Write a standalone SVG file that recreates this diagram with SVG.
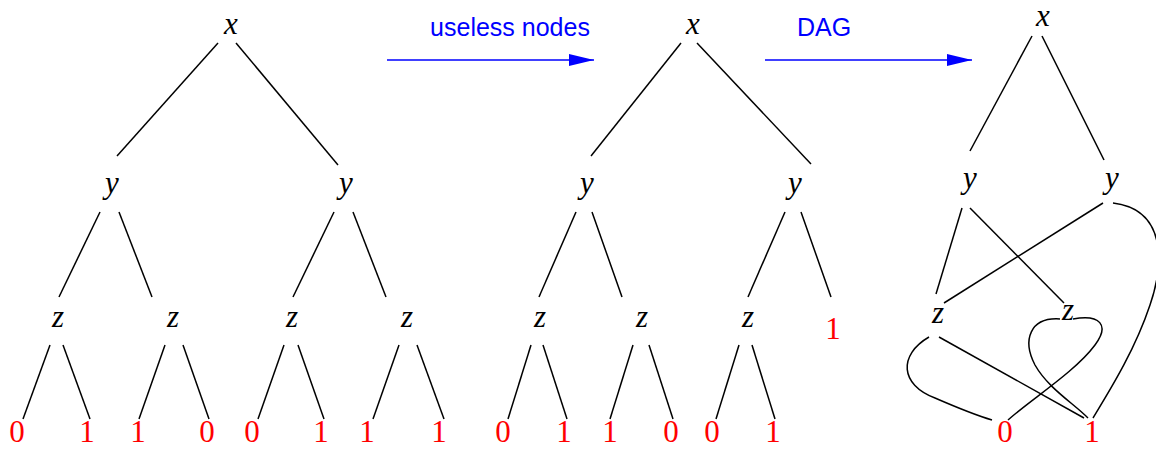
<svg xmlns="http://www.w3.org/2000/svg" width="1156" height="449" viewBox="0 0 1156 449">
<style>
.v{font-family:"Liberation Serif",serif;font-style:italic;font-size:31px;fill:#000;text-anchor:middle}
.d{font-family:"Liberation Serif",serif;font-size:31px;fill:#f00;text-anchor:middle}
.e line,.e path{stroke:#000;stroke-width:1.5;fill:none}
.a{stroke:#00f;stroke-width:1.5;fill:none}
.lbl{font-family:"Liberation Sans",sans-serif;font-size:25px;fill:#00f;text-anchor:middle}
</style>
<defs>
<marker id="ah" markerWidth="25" markerHeight="12" refX="25" refY="6" orient="auto" markerUnits="userSpaceOnUse">
<path d="M0,0 L25,6 L0,12 z" fill="#00f"/>
</marker>
</defs>
<g id="connectors" class="e">
<!-- tree 1 -->
<line x1="218" y1="43" x2="117" y2="156"/>
<line x1="236" y1="43" x2="338" y2="165"/>
<line x1="100" y1="212" x2="59" y2="297"/>
<line x1="119" y1="212" x2="152" y2="297"/>
<line x1="334" y1="212" x2="293" y2="297"/>
<line x1="353" y1="212" x2="386" y2="297"/>
<line x1="50" y1="345" x2="23" y2="419"/>
<line x1="63" y1="345" x2="90" y2="419"/>
<line x1="165" y1="345" x2="139" y2="419"/>
<line x1="183" y1="345" x2="209" y2="419"/>
<line x1="284" y1="345" x2="258" y2="419"/>
<line x1="298" y1="345" x2="324" y2="419"/>
<line x1="399" y1="345" x2="373" y2="419"/>
<line x1="417" y1="345" x2="444" y2="419"/>
<!-- tree 2 -->
<line x1="681" y1="43" x2="591" y2="156"/>
<line x1="697" y1="43" x2="811" y2="164"/>
<line x1="576" y1="212" x2="539" y2="297"/>
<line x1="592" y1="212" x2="622" y2="297"/>
<line x1="785" y1="212" x2="748" y2="297"/>
<line x1="801" y1="212" x2="831" y2="297"/>
<line x1="531" y1="345" x2="508" y2="419"/>
<line x1="543" y1="345" x2="567" y2="419"/>
<line x1="633" y1="345" x2="610" y2="419"/>
<line x1="649" y1="345" x2="673" y2="419"/>
<line x1="739" y1="345" x2="716" y2="419"/>
<line x1="752" y1="345" x2="775" y2="419"/>
<!-- tree 3 (DAG) -->
<line x1="1032" y1="36" x2="970" y2="151"/>
<line x1="1042" y1="36" x2="1104" y2="160"/>
<line x1="962" y1="208" x2="936" y2="294"/>
<line x1="970" y1="208" x2="1064" y2="303"/>
<line x1="1103" y1="203" x2="944" y2="303"/>
<path d="M1113,203 C1170,210 1162,270 1150,305 C1135,350 1110,390 1093,418"/>
<path d="M929,337 C898,355 900,385 935,398 C958,408 975,415 992,420"/>
<line x1="939" y1="337" x2="1084" y2="418"/>
<path d="M1060,319 C1030,317 1022,340 1035,365 C1048,388 1073,403 1088,418"/>
<path d="M1073,319 C1100,314 1110,325 1095,345 C1075,372 1030,400 1008,420"/>
</g>
<g id="arrow1">
<line class="a" x1="387" y1="60" x2="594" y2="60" marker-end="url(#ah)"/>
<text class="lbl" x="510" y="36">useless nodes</text>
</g>
<g id="arrow2">
<line class="a" x1="765" y1="60" x2="972" y2="60" marker-end="url(#ah)"/>
<text class="lbl" x="824" y="36">DAG</text>
</g>
<g id="tree1">
<text class="v" x="231" y="34">x</text>
<text class="v" x="112" y="193">y</text>
<text class="v" x="346" y="193">y</text>
<text class="v" x="58" y="327">z</text>
<text class="v" x="173" y="327">z</text>
<text class="v" x="292" y="327">z</text>
<text class="v" x="407" y="327">z</text>
<text class="d" x="17" y="442">0</text>
<text class="d" x="87" y="442">1</text>
<text class="d" x="138" y="442">1</text>
<text class="d" x="207" y="442">0</text>
<text class="d" x="252" y="442">0</text>
<text class="d" x="321" y="442">1</text>
<text class="d" x="367" y="442">1</text>
<text class="d" x="439" y="442">1</text>
</g>
<g id="tree2">
<text class="v" x="693" y="34">x</text>
<text class="v" x="587" y="193">y</text>
<text class="v" x="795" y="193">y</text>
<text class="v" x="540" y="327">z</text>
<text class="v" x="642" y="327">z</text>
<text class="v" x="748" y="327">z</text>
<text class="d" x="833" y="339">1</text>
<text class="d" x="503" y="442">0</text>
<text class="d" x="564" y="442">1</text>
<text class="d" x="610" y="442">1</text>
<text class="d" x="671" y="442">0</text>
<text class="d" x="712" y="442">0</text>
<text class="d" x="773" y="442">1</text>
</g>
<g id="tree3">
<text class="v" x="1043" y="26">x</text>
<text class="v" x="970" y="188">y</text>
<text class="v" x="1112" y="188">y</text>
<text class="v" x="938" y="323">z</text>
<text class="v" x="1068" y="320">z</text>
<text class="d" x="1005" y="442">0</text>
<text class="d" x="1092" y="442">1</text>
</g>
</svg>
